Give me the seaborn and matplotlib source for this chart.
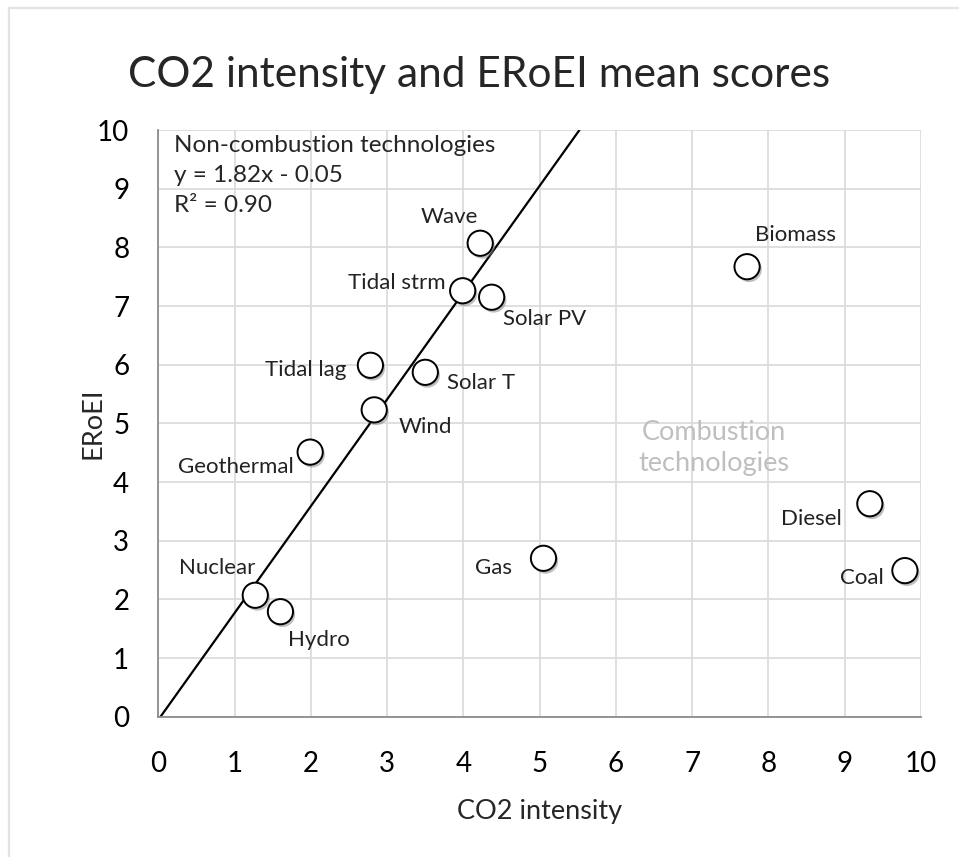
import matplotlib
matplotlib.use("Agg")
import matplotlib.pyplot as plt
import matplotlib.patheffects as pe
from matplotlib.patches import Rectangle
import seaborn as sns
import numpy as np
import pandas as pd

# データ
technologies = ["Wave", "Biomass", "Tidal strm", "Solar PV", "Tidal lag", "Solar T",
                "Wind", "Geothermal", "Diesel", "Gas", "Coal", "Nuclear", "Hydro"]
co2_intensity = [4.22, 7.72, 3.99, 4.37, 2.78, 3.50, 2.83, 1.99, 9.33, 5.05, 9.79, 1.27, 1.60]
eroei = [8.07, 7.67, 7.26, 7.15, 5.99, 5.87, 5.23, 4.51, 3.63, 2.70, 2.49, 2.07, 1.79]
fit_slope = 1.82
fit_intercept = -0.05
fit_r2 = 0.90

df = pd.DataFrame({"tech": technologies, "co2": co2_intensity, "eroei": eroei})

# ラベル位置 (pixel offset, ha)
label_pos = {
    "Wave": (-31, 26, "center"),
    "Biomass": (8, 32, "left"),
    "Tidal strm": (-17, 8, "right"),
    "Solar PV": (11, -22, "left"),
    "Tidal lag": (-24, -5, "right"),
    "Solar T": (22, -11, "left"),
    "Wind": (24, -17, "left"),
    "Geothermal": (-16, -15, "right"),
    "Diesel": (-28, -15, "right"),
    "Gas": (-31, -10, "right"),
    "Coal": (-21, -7, "right"),
    "Nuclear": (0, 27, "right"),
    "Hydro": (8, -28, "left"),
}

sns.set_style("white")
plt.rcParams["font.family"] = ["Lato", "DejaVu Sans"]

fig = plt.figure(figsize=(9.59, 8.57), dpi=100)
# 外枠 (左と上だけ見える)
fig.patches.append(Rectangle((9 / 959, -0.05), 1.2, 1.05 - 8 / 857,
                             transform=fig.transFigure, fill=False,
                             edgecolor="#e3e3e3", linewidth=1.6))
ax = fig.add_axes([0.1652, 0.1637, 0.7951, 0.6846])

# 回帰直線
x_line = np.array([0, (10 - fit_intercept) / fit_slope])
ax.plot(x_line, fit_slope * x_line + fit_intercept, color="black", linewidth=1.6, zorder=2)

sns.scatterplot(data=df, x="co2", y="eroei", ax=ax, s=330, color="white",
                edgecolor="black", linewidth=1.4, zorder=3,
                path_effects=[pe.SimplePatchShadow(offset=(1.5, -2), shadow_rgbFace="gray", alpha=0.5),
                              pe.Normal()])

for _, row in df.iterrows():
    dx, dy, ha = label_pos[row["tech"]]
    ax.annotate(row["tech"], (row["co2"], row["eroei"]), xytext=(dx, dy),
                textcoords="offset pixels", ha=ha, va="center", fontsize=16,
                color="#222222", zorder=4)

# 近似式 (1行ずつ)
fit_lines = ["Non-combustion technologies",
             f"y = {fit_slope:.2f}x - {abs(fit_intercept):.2f}",
             f"R² = {fit_r2:.2f}"]
for i, line in enumerate(fit_lines):
    ax.text(0.02, 0.973 - i * 0.0505, line, transform=ax.transAxes,
            ha="left", va="center", fontsize=17.5)
ax.text(7.28, 4.58, "Combustion\ntechnologies", ha="center", va="center",
        fontsize=19.5, color="#bfbfbf", linespacing=1.3)

ax.set_xlim(0, 10)
ax.set_ylim(0, 10)
ax.set_xticks(range(0, 11))
ax.set_yticks(range(0, 11))
ax.grid(True, color="#dcdcdc", linewidth=1.3)
ax.set_axisbelow(True)
for side in ["top", "right"]:
    ax.spines[side].set_visible(False)
for side in ["left", "bottom"]:
    ax.spines[side].set_color("#8c8c8c")
    ax.spines[side].set_linewidth(1.3)
ax.tick_params(axis="both", direction="out", length=7, width=1.3, color="#8c8c8c",
               labelsize=20, labelcolor="black")
ax.tick_params(axis="x", pad=18)
ax.tick_params(axis="y", pad=14)

ax.set_xlabel("CO2 intensity", fontsize=19.5)
ax.set_ylabel("ERoEI", fontsize=19.5)
ax.xaxis.set_label_coords(0.5, -0.14)
ax.yaxis.set_label_coords(-0.07, 0.5)
fig.suptitle("CO2 intensity and ERoEI mean scores", fontsize=30.5, y=0.912, va="center")

fig.savefig("out.png", dpi=100)
